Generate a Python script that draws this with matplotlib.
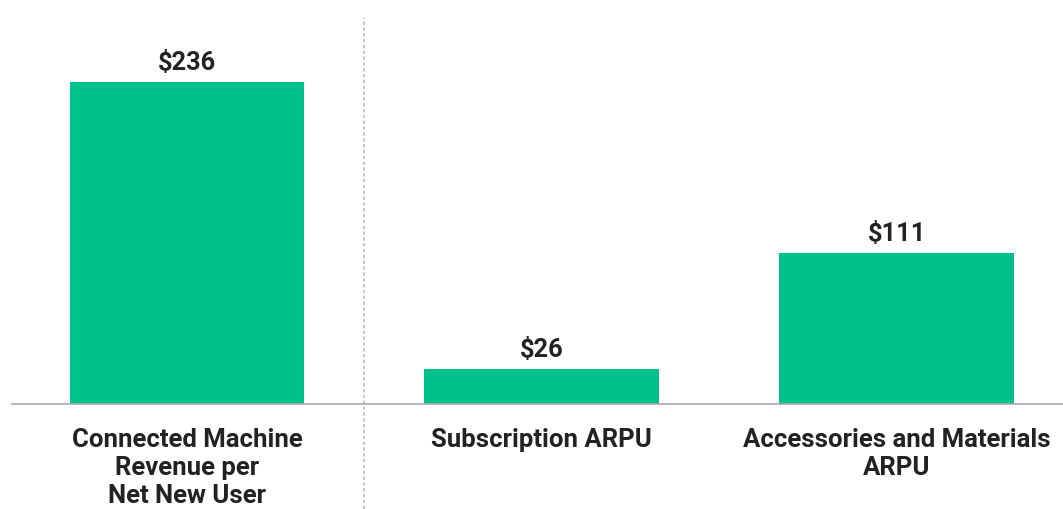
import matplotlib
matplotlib.use("Agg")
import matplotlib.pyplot as plt
import matplotlib.transforms as mtransforms

categories = ["Connected Machine\nRevenue per\nNet New User", "Subscription ARPU", "Accessories and Materials\nARPU"]
values = [236, 26, 111]
value_labels = ["$236", "$26", "$111"]

plt.rcParams['font.family'] = ['Roboto', 'DejaVu Sans']

W, H = 1063, 509
fig = plt.figure(figsize=(W/100, H/100), dpi=100)
left_px, right_px, base_px, top_px = 12, 1063, 404, 18
ax = fig.add_axes([left_px/W, (H-base_px)/H, (right_px-left_px)/W, (base_px-top_px)/H])

green = "#00C08B"
x = list(range(len(values)))
ax.bar(x, values, width=0.662, color=green, zorder=2)

ax.set_xlim(-0.493, 2.468)
ax.set_ylim(0, (base_px-top_px)/1.364)

for xi, v, lab in zip(x, values, value_labels):
    ax.annotate(lab, (xi, v), xytext=(0, 5), textcoords="offset points",
                ha="center", va="bottom", fontsize=18.3, fontweight="bold", color="#222222")

ax.set_xticks(x)
ax.set_xticklabels(categories, fontsize=18.5, fontweight="bold", color="#222222", linespacing=1.2)
ax.tick_params(axis="x", length=0, pad=17.5)
ax.set_yticks([])
for s in ["top", "right", "left"]:
    ax.spines[s].set_visible(False)
ax.spines["bottom"].set_color("#aaaaaa")
ax.spines["bottom"].set_linewidth(1.2)

trans = mtransforms.blended_transform_factory(ax.transData, ax.transAxes)
ax.plot([0.5, 0.5], [-(H-base_px)/(base_px-top_px), 1], transform=trans, color="#bbbbbb",
        linestyle=(0, (2, 1.5)), linewidth=1.2, clip_on=False, zorder=1)

fig.savefig("out.png", dpi=100, facecolor="white")
